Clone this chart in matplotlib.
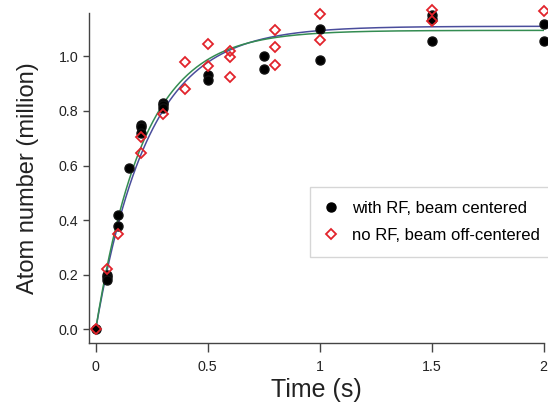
import numpy as np
import matplotlib
matplotlib.use('Agg')
import matplotlib.pyplot as plt
from matplotlib.lines import Line2D

plt.rcParams['font.family'] = ['Liberation Sans', 'DejaVu Sans']

# with RF, beam centered (black dots)
t_rf = [0, 0.05, 0.05, 0.05, 0.1, 0.1, 0.15, 0.2, 0.2, 0.2, 0.3, 0.3, 0.3,
        0.5, 0.5, 0.75, 0.75, 1.0, 1.0, 1.5, 1.5, 1.5, 2.0, 2.0]
n_rf = [0.0, 0.20, 0.19, 0.18, 0.42, 0.38, 0.59, 0.75, 0.74, 0.72, 0.83, 0.82, 0.81,
        0.93, 0.915, 1.0, 0.955, 1.10, 0.985, 1.15, 1.135, 1.055, 1.12, 1.055]

# no RF, beam off-centered (red diamonds)
t_norf = [0, 0.05, 0.1, 0.2, 0.2, 0.3, 0.4, 0.4, 0.5, 0.5, 0.6, 0.6, 0.6,
          0.8, 0.8, 0.8, 1.0, 1.0, 1.5, 1.5, 2.0]
n_norf = [0.0, 0.22, 0.35, 0.705, 0.647, 0.79, 0.978, 0.879, 1.044, 0.966, 1.02, 0.999, 0.923,
          1.096, 1.033, 0.967, 1.154, 1.06, 1.17, 1.13, 1.165]

# exponential fits, N(t) = A * (1 - exp(-t / tau))
fit_blue = (1.11, 0.235)
fit_green = (1.095, 0.215)

xticks = [0, 0.5, 1, 1.5, 2]
xticklabels = ['0', '0.5', '1', '1.5', '2']
yticks = [0.0, 0.2, 0.4, 0.6, 0.8, 1.0]

fig = plt.figure(figsize=(5.48, 4.07), dpi=100)
ax = fig.add_axes([0.162, 0.158, 0.83, 0.811])

tt = np.linspace(0, 2, 400)
for (A, tau), col in [(fit_blue, '#4a4d9c'), (fit_green, '#348c52')]:
    ax.plot(tt, A * (1 - np.exp(-tt / tau)), color=col, lw=1.1, zorder=2)

ax.plot(t_rf, n_rf, 'o', color='black', ms=6.5, mec='#111111', zorder=3, clip_on=False)
ax.plot(t_norf, n_norf, 'D', mfc='none', mec='#e2232b', mew=1.3, ms=4.8, zorder=4, clip_on=False)

ax.set_xlim(-0.031, 2.0)
ax.set_ylim(-0.049, 1.16)
ax.set_xticks(xticks)
ax.set_xticklabels(xticklabels)
ax.set_yticks(yticks)
ax.set_yticklabels([f'{v:.1f}' for v in yticks])

for s in ['top', 'right']:
    ax.spines[s].set_visible(False)
for s in ['left', 'bottom']:
    ax.spines[s].set_color('#444444')
    ax.spines[s].set_linewidth(1.0)
ax.tick_params(direction='out', width=1, color='#444444',
               labelsize=10.3, labelcolor='#222222')
ax.tick_params(axis='x', length=6.5, pad=6)
ax.tick_params(axis='y', length=4.5, pad=3)

ax.set_xlabel('Time (s)', fontsize=18, color='#222222', labelpad=3)
ax.set_ylabel('Atom number (million)', fontsize=17, color='#222222', labelpad=14)

handles = [
    Line2D([], [], ls='none', marker='o', color='black', ms=6.5),
    Line2D([], [], ls='none', marker='D', mfc='none', mec='#e2232b', mew=1.3, ms=4.8),
]
leg = ax.legend(handles, ['with RF, beam centered', 'no RF, beam off-centered'],
                loc='upper left', bbox_to_anchor=(0.486, 0.472), fontsize=12,
                frameon=True, fancybox=False, edgecolor='#cccccc',
                handlelength=0.8, handletextpad=0.9, borderpad=0.85,
                labelspacing=0.7, borderaxespad=0)
leg.get_frame().set_linewidth(1.0)

fig.savefig('out.png', dpi=100)
